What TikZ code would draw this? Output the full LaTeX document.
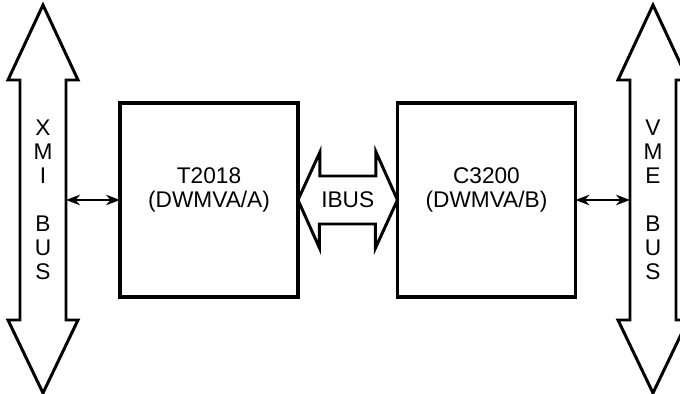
\documentclass[tikz,border=0pt]{standalone}
\usepackage{fontspec}
\setmainfont{Liberation Sans}
\usetikzlibrary{positioning,arrows.meta}

\begin{document}
\begin{tikzpicture}[x=0.02cm,y=-0.02cm,node distance=5.55cm,on grid,
  font=\fontsize{12.9}{13.7}\selectfont,
  unit/.style={draw,line width=1.9pt,outer sep=0pt,minimum width=3.56cm,minimum height=3.88cm},
  bus/.style={draw,line width=1.7pt},
  link/.style={{Stealth[length=8pt,width=6pt]}-{Stealth[length=8pt,width=6pt]},line width=1.1pt}]
\useasboundingbox (0,0) rectangle (680,394);
\node[unit] (t2018) at (209,200) {};
\node[unit] (c3200) [right=of t2018] {};
\node[align=center] (t2018-txt) at ([yshift=0.2cm]t2018) {T2018\\(DWMVA/A)};
\node[align=center] (c3200-txt) at ([yshift=0.2cm]c3200) {C3200\\(DWMVA/B)};
% system buses on both sides
\foreach \x/\n/\txt in {43/xmi/{X\\M\\I},653/vme/{V\\M\\E}} {
  \draw[bus] (\x,5) -- ++(35,75) -- ++(-12,0) -- ++(0,240) -- ++(12,0) -- (\x,393)
    -- ++(-35,-73) -- ++(12,0) -- ++(0,-240) -- ++(-12,0) -- cycle;
  \coordinate (\n-w) at (\x-23,200);
  \coordinate (\n-e) at (\x+23,200);
  \node[align=center] (\n-txt) at (\x,200) {\txt\\~\\B\\U\\S};
}
% internal bus
\draw[bus] (t2018.east) -- ++(22,-48) -- ++(0,24) -- ++(56,0) -- ++(0,-24) -- (c3200.west)
  -- ++(-22,48) -- ++(0,-24) -- ++(-56,0) -- ++(0,24) -- cycle;
\path (t2018) -- node (ibus) {IBUS} (c3200);
\draw[link] (xmi-e) -- (t2018.west);
\draw[link] (c3200.east) -- (vme-w);
\end{tikzpicture}
\end{document}
